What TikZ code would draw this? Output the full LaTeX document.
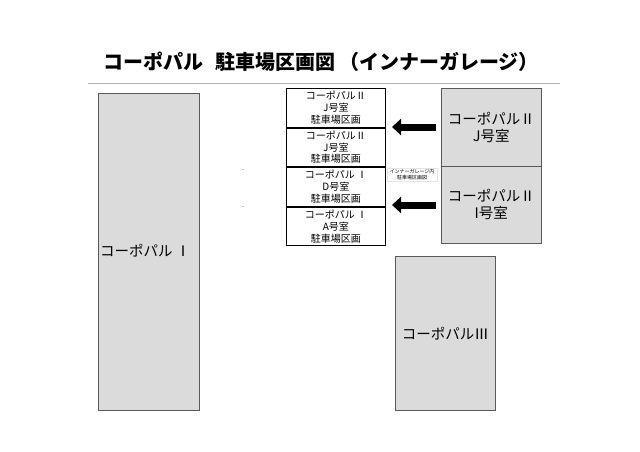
\documentclass[tikz,border=0pt]{standalone}
\usepackage{fontspec}
\setmainfont{Noto Sans CJK JP}
\usetikzlibrary{arrows.meta}
\begin{document}
\begin{tikzpicture}[x=1pt,y=-1pt,
 gbox/.style={draw=gray!70!black,fill=black!14,line width=0.6pt},
 slot/.style={draw=black,line width=0.8pt,minimum width=99pt,minimum height=38.75pt,inner sep=0pt,align=center,font=\fontsize{10}{11.8}\selectfont},
 big/.style={font=\fontsize{14.5}{17}\selectfont,align=center},
 arr/.style={-{Triangle[length=9pt,width=16pt]},line width=7pt}]
\useasboundingbox (0,0) rectangle (640,452);
\node[font=\fontsize{20}{23}\selectfont\bfseries] (title) at (321,62) {コーポパル\hspace{12pt}駐車場区画図\hspace{4pt}（インナーガレージ）};
\draw[gray!60,line width=1pt] (88,84) -- (560,84);
\node[gbox,minimum width=101pt,minimum height=317pt,inner sep=0pt,anchor=north west] (p1) at (98,93) {};
\node[big,anchor=west,inner sep=0pt] at (100,251) {コーポパル Ⅰ};
\node[gbox,minimum width=100pt,minimum height=154pt,inner sep=0pt,anchor=north west] (p3) at (395,256) {};
\node[big] at (p3.center) {コーポパルⅢ};
\node[gbox,minimum width=100pt,minimum height=77.5pt,inner sep=0pt,anchor=north west,big] (j) at (441,88) {コーポパルⅡ\\J号室};
\node[gbox,minimum width=100pt,minimum height=77.5pt,inner sep=0pt,anchor=north west,big] (i) at (441,165.5) {コーポパルⅡ\\I号室};
\node[slot,anchor=north west] (s1) at (286,88) {コーポパルⅡ\\J号室\\駐車場区画};
\node[slot,anchor=north] (s2) at (s1.south) {コーポパルⅡ\\J号室\\駐車場区画};
\node[slot,anchor=north] (s3) at (s2.south) {コーポパル Ⅰ\\D号室\\駐車場区画};
\node[slot,anchor=north] (s4) at (s3.south) {コーポパル Ⅰ\\A号室\\駐車場区画};
\node[draw=black!10,font=\fontsize{5}{6}\selectfont,align=center,inner sep=1pt,minimum width=50pt] (lab) at (412,175) {インナーガレージ内\\駐車場区画図};
\coordinate (a1) at (436,127); \coordinate (b1) at (392,127);
\coordinate (a2) at (436,205); \coordinate (b2) at (392,205);
\draw[arr] (a1) -- (b1);
\draw[arr] (a2) -- (b2);
\node[font=\tiny] (d1) at (243,171) {-};
\node[font=\tiny] (d2) at (243,208) {-};
\end{tikzpicture}
\end{document}
